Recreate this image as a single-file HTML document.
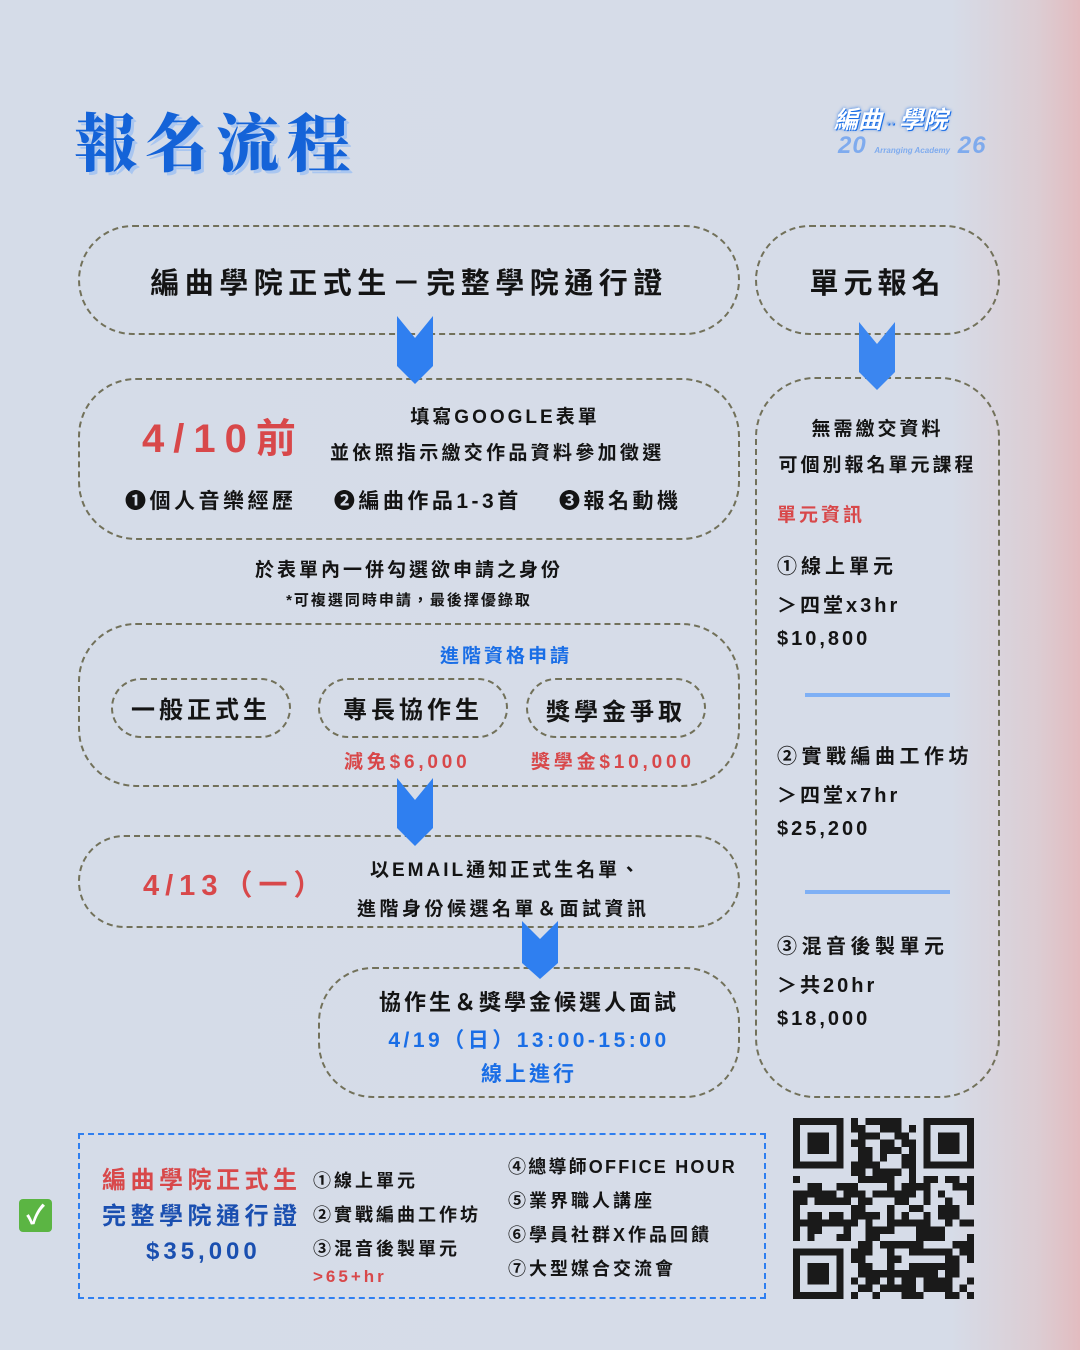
<!DOCTYPE html>
<html><head><meta charset="utf-8">
<style>
*{margin:0;padding:0;box-sizing:border-box}
body{width:1080px;height:1350px;overflow:hidden;position:relative;background:linear-gradient(90deg,#d5dce8 0%,#d6dce8 88%,#dccdd3 96%,#e2bcc0 100%);font-family:"Liberation Sans","Noto Sans CJK TC",sans-serif;font-weight:700;color:#141414}
.a{position:absolute}
.box{position:absolute;border:2px dashed #72715a;}
.t{position:absolute;white-space:nowrap;letter-spacing:3px}
.arr{position:absolute;width:36px}
.red{color:#d8484a}.blue{color:#1a6ee6}
</style></head><body>
<div class="t" style="left:74px;top:94px;font-size:63px;letter-spacing:8px;color:#1463d8;font-family:'Noto Serif CJK SC',serif;font-weight:900;text-shadow:3px 3px 0 #a9c6f0">報名流程</div>
<div class="t" style="left:834px;top:100px;font-size:24px;color:#fff;font-style:italic;letter-spacing:0;text-shadow:0 0 3px #1a6ee6,1px 1px 0 #1a6ee6">編曲<span style="color:#8ab0e8;font-size:14px"> ·· </span>學院</div>
<div class="t" style="left:838px;top:132px;font-size:24px;color:#6aa0f0;font-style:italic;letter-spacing:1px;opacity:.8">20 <span style="font-size:8px;letter-spacing:0">Arranging Academy</span> 26</div>

<div class="box" style="left:78px;top:225px;width:662px;height:110px;border-radius:55px"></div>
<div class="t" style="left:78px;width:662px;text-align:center;top:260px;font-size:29px;letter-spacing:5.5px">編曲學院正式生－完整學院通行證</div>
<div class="box" style="left:755px;top:225px;width:245px;height:110px;border-radius:55px"></div>
<div class="t" style="left:755px;width:245px;text-align:center;top:260px;font-size:29px;letter-spacing:5px">單元報名</div>

<div class="box" style="left:78px;top:378px;width:662px;height:162px;border-radius:58px"></div>
<div class="t red" style="left:142px;top:406px;font-size:40px;letter-spacing:9px">4/10前</div>
<div class="t" style="left:330px;top:402px;width:350px;text-align:center;font-size:19px">填寫GOOGLE表單</div>
<div class="t" style="left:330px;top:438px;font-size:19px;letter-spacing:3.3px">並依照指示繳交作品資料參加徵選</div>
<div class="t" style="left:125px;top:485px;font-size:21px;letter-spacing:3.5px">❶個人音樂經歷 &nbsp;&nbsp; ❷編曲作品1-3首 &nbsp;&nbsp; ❸報名動機</div>

<div class="t" style="left:78px;width:662px;text-align:center;top:555px;font-size:19px">於表單內一併勾選欲申請之身份</div>
<div class="t" style="left:78px;width:662px;text-align:center;top:589px;font-size:15px;letter-spacing:2px">*可複選同時申請，最後擇優錄取</div>

<div class="box" style="left:78px;top:623px;width:662px;height:164px;border-radius:58px"></div>
<div class="t blue" style="left:440px;top:641px;font-size:19px">進階資格申請</div>
<div class="box" style="left:111px;top:678px;width:180px;height:60px;border-radius:30px"></div>
<div class="t" style="left:111px;width:180px;text-align:center;top:690px;font-size:24px;letter-spacing:4px">一般正式生</div>
<div class="box" style="left:318px;top:678px;width:190px;height:60px;border-radius:30px"></div>
<div class="t" style="left:318px;width:190px;text-align:center;top:690px;font-size:24px;letter-spacing:4px">專長協作生</div>
<div class="box" style="left:526px;top:678px;width:180px;height:60px;border-radius:30px"></div>
<div class="t" style="left:526px;width:180px;text-align:center;top:692px;font-size:24px;letter-spacing:4px">獎學金爭取</div>
<div class="t red" style="left:344px;top:747px;font-size:19px;letter-spacing:3.8px">減免$6,000</div>
<div class="t red" style="left:531px;top:747px;font-size:19px;letter-spacing:3.8px">獎學金$10,000</div>

<div class="box" style="left:78px;top:835px;width:662px;height:93px;border-radius:46px"></div>
<div class="t red" style="left:143px;top:862px;font-size:29px;letter-spacing:6px">4/13（一）</div>
<div class="t" style="left:370px;top:855px;font-size:19px">以EMAIL通知正式生名單、</div>
<div class="t" style="left:357px;top:894px;font-size:19px;letter-spacing:3.5px">進階身份候選名單＆面試資訊</div>

<div class="box" style="left:318px;top:967px;width:422px;height:131px;border-radius:55px"></div>
<div class="t" style="left:318px;width:422px;text-align:center;top:985px;font-size:22px">協作生＆獎學金候選人面試</div>
<div class="t blue" style="left:318px;width:422px;text-align:center;top:1024px;font-size:21px;letter-spacing:3.5px">4/19（日）13:00-15:00</div>
<div class="t blue" style="left:318px;width:422px;text-align:center;top:1058px;font-size:21px">線上進行</div>

<div class="box" style="left:755px;top:377px;width:245px;height:721px;border-radius:60px"></div>
<div class="t" style="left:755px;width:245px;text-align:center;top:414px;font-size:19px">無需繳交資料</div>
<div class="t" style="left:755px;width:245px;text-align:center;top:450px;font-size:19px">可個別報名單元課程</div>
<div class="t red" style="left:777px;top:500px;font-size:19px">單元資訊</div>
<div class="t" style="left:777px;top:550px;font-size:20px;letter-spacing:4px">①線上單元</div>
<div class="t" style="left:777px;top:589px;font-size:20px">＞四堂x3hr</div>
<div class="t" style="left:777px;top:628px;font-size:20px">$10,800</div>
<div class="a" style="left:805px;top:693px;width:145px;height:4px;background:#7fb0f5"></div>
<div class="t" style="left:777px;top:740px;font-size:20px;letter-spacing:4.5px">②實戰編曲工作坊</div>
<div class="t" style="left:777px;top:779px;font-size:20px">＞四堂x7hr</div>
<div class="t" style="left:777px;top:818px;font-size:20px">$25,200</div>
<div class="a" style="left:805px;top:890px;width:145px;height:4px;background:#7fb0f5"></div>
<div class="t" style="left:777px;top:930px;font-size:20px;letter-spacing:4.5px">③混音後製單元</div>
<div class="t" style="left:777px;top:969px;font-size:20px">＞共20hr</div>
<div class="t" style="left:777px;top:1008px;font-size:20px">$18,000</div>

<svg class="arr" style="left:397px;top:316px" height="68" viewBox="0 0 36 68"><polygon points="0,0 18,22 36,0 36,50 18,68 0,50" fill="#2f7ff0"/></svg>
<svg class="arr" style="left:859px;top:322px" height="68" viewBox="0 0 36 68"><polygon points="0,0 18,22 36,0 36,50 18,68 0,50" fill="#3b86f0"/></svg>
<svg class="arr" style="left:397px;top:778px" height="68" viewBox="0 0 36 68"><polygon points="0,0 18,22 36,0 36,50 18,68 0,50" fill="#2f7ff0"/></svg>
<svg class="arr" style="left:522px;top:921px" height="58" viewBox="0 0 36 58"><polygon points="0,0 18,18 36,0 36,42 18,58 0,42" fill="#2f7ff0"/></svg>

<div class="a" style="left:78px;top:1133px;width:688px;height:166px;border:2px dashed #2f7ff0"></div>
<div class="a" style="left:19px;top:1199px;width:33px;height:33px;background:#5bb543;border-radius:4px;color:#fff;font-size:26px;text-align:center;line-height:33px">✓</div>
<div class="t red" style="left:102px;top:1160px;font-size:24px;letter-spacing:4.5px">編曲學院正式生</div>
<div class="t" style="left:102px;top:1196px;font-size:24px;color:#1a4fb0;letter-spacing:4.5px">完整學院通行證</div>
<div class="t" style="left:146px;top:1238px;font-size:24px;color:#1a4fb0;letter-spacing:4px">$35,000</div>
<div class="t" style="left:313px;top:1167px;font-size:18px;letter-spacing:3px">①線上單元</div>
<div class="t" style="left:313px;top:1201px;font-size:18px;letter-spacing:3px">②實戰編曲工作坊</div>
<div class="t" style="left:313px;top:1235px;font-size:18px;letter-spacing:3px">③混音後製單元</div>
<div class="t red" style="left:313px;top:1267px;font-size:17px">&gt;65+hr</div>
<div class="t" style="left:508px;top:1153px;font-size:18px;letter-spacing:2.2px">④總導師OFFICE HOUR</div>
<div class="t" style="left:508px;top:1187px;font-size:18px;letter-spacing:3px">⑤業界職人講座</div>
<div class="t" style="left:508px;top:1221px;font-size:18px;letter-spacing:3px">⑥學員社群X作品回饋</div>
<div class="t" style="left:508px;top:1255px;font-size:18px;letter-spacing:3px">⑦大型媒合交流會</div>

<svg id="qr" class="a" style="left:793px;top:1118px" width="181" height="181" viewBox="0 0 25 25" shape-rendering="crispEdges"></svg>
<script>
var s=document.getElementById('qr'),h='';
function r(x,y,w,hh,c){h+='<rect x="'+x+'" y="'+y+'" width="'+w+'" height="'+hh+'" fill="'+c+'"/>';}
var seed=7;function rnd(){seed=(seed*9301+49297)%233280;return seed/233280;}
function finder(x,y){r(x,y,7,7,'#1a1a1a');r(x+1,y+1,5,5,'#d5dce8');r(x+2,y+2,3,3,'#1a1a1a');}
for(var y=0;y<25;y++)for(var x=0;x<25;x++){
 if((x<8&&y<8)||(x>16&&y<8)||(x<8&&y>16))continue;
 if(rnd()<0.52)r(x,y,1,1,'#1a1a1a');}
finder(0,0);finder(18,0);finder(0,18);
s.innerHTML=h;
</script>
</body></html>
